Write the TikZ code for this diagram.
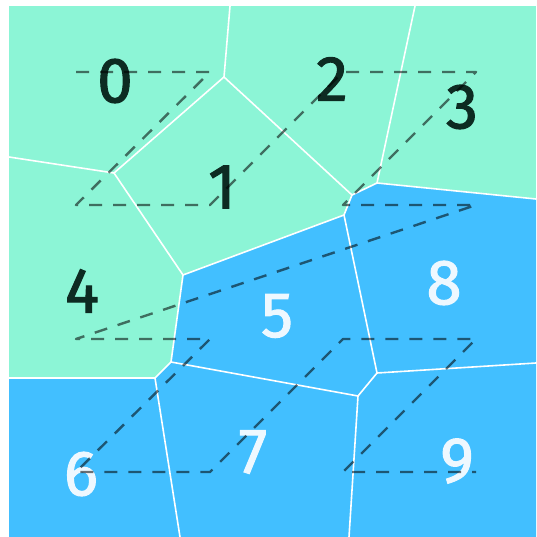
\documentclass[tikz,border=0pt]{standalone}
\usepackage{fontspec}
\setmainfont{Fira Sans}
\newfontfamily\digitfont[RawFeature={embolden=1.6}]{Fira Sans}
\definecolor{cellgreen}{HTML}{8CF5D6}
\definecolor{cellblue}{HTML}{42BFFF}
\definecolor{darktext}{HTML}{0D2B22}
\definecolor{lighttext}{HTML}{EEF8FF}
\tikzset{
  edge/.style={white, line width=1.6pt, line cap=round},
  zpath/.style={black, opacity=0.55, line width=2.4pt, dash pattern=on 13pt off 11pt, line join=round},
  darklabel/.style={text=darktext, font=\digitfont\fontsize{64}{64}\selectfont, inner sep=0pt},
  lightlabel/.style={text=lighttext, font=\digitfont\fontsize{64}{64}\selectfont, inner sep=0pt}
}
\begin{document}
\begin{tikzpicture}[x=1pt,y=-1pt]
\useasboundingbox (0,0) rectangle (536,537);
\fill[white] (0,0) rectangle (536,537);
% Voronoi vertices
\coordinate (A) at (224,77);
\coordinate (B) at (114,173);
\coordinate (C) at (183,275);
\coordinate (D) at (352,195);
\coordinate (E) at (377,183);
\coordinate (F) at (344,215);
\coordinate (G) at (377,373);
\coordinate (H) at (358,396);
\coordinate (I) at (171,362);
\coordinate (J) at (155,378);
\coordinate (T1) at (230,6);
\coordinate (T2) at (415,6);
\coordinate (R1) at (536,199);
\coordinate (R2) at (536,363);
\coordinate (B1) at (349,537);
\coordinate (B2) at (180,537);
\coordinate (L1) at (9,157);
\coordinate (L2) at (9,378);
% regions
\fill[cellgreen] (9,6) rectangle (536,537);
\fill[cellblue] (L2) -- (J) -- (I) -- (C) -- (F) -- (D) -- (E) -- (R1) -- (536,537) -- (9,537) -- cycle;
% cell edges
\draw[edge] (A) -- (T1);
\draw[edge] (A) -- (B);
\draw[edge] (A) -- (D);
\draw[edge] (B) -- (L1);
\draw[edge] (B) -- (C);
\draw[edge] (C) -- (F);
\draw[edge] (C) -- (I);
\draw[edge] (D) -- (E);
\draw[edge] (D) -- (F);
\draw[edge] (E) -- (T2);
\draw[edge] (E) -- (R1);
\draw[edge] (F) -- (G);
\draw[edge] (G) -- (R2);
\draw[edge] (G) -- (H);
\draw[edge] (H) -- (B1);
\draw[edge] (H) -- (I);
\draw[edge] (I) -- (J);
\draw[edge] (J) -- (L2);
\draw[edge] (J) -- (B2);
% labels
\node[darklabel] (n0) at (115,81) {0};
\node[darklabel] (n1) at (222,187) {1};
\node[darklabel] (n2) at (332,79) {2};
\node[darklabel] (n3) at (462,107) {3};
\node[darklabel] (n4) at (82,291) {4};
\node[lightlabel] (n5) at (277,316) {5};
\node[lightlabel] (n6) at (81,474) {6};
\node[lightlabel] (n7) at (253,452) {7};
\node[lightlabel] (n8) at (444,283) {8};
\node[lightlabel] (n9) at (457,461) {9};
% Z-order grid points
\foreach \c/\xx in {0/76,1/210,2/343,3/476}{
  \foreach \r/\yy in {0/72,1/205,2/339,3/472}{
    \coordinate (p\c\r) at (\xx,\yy);
  }
}
\draw[zpath] (p00) -- (p10) -- (p01) -- (p11) -- (p20) -- (p30) -- (p21) -- (p31)
  -- (p02) -- (p12) -- (p03) -- (p13) -- (p22) -- (p32) -- (p23) -- (p33);
\end{tikzpicture}
\end{document}
